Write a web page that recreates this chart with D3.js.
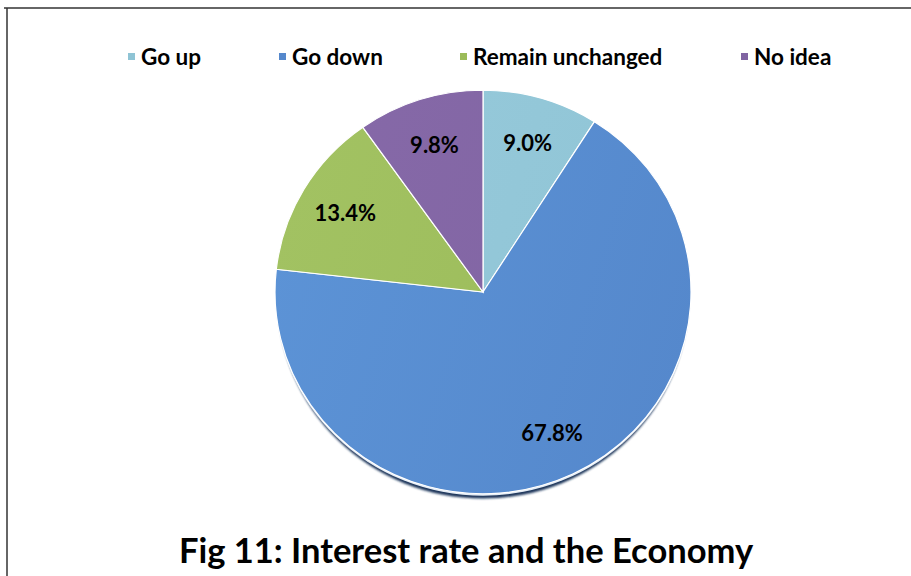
<!DOCTYPE html>
<html>
<head>
<meta charset="utf-8">
<script src="https://cdn.jsdelivr.net/npm/d3@7/dist/d3.min.js"></script>
<style>
  html, body { margin: 0; padding: 0; background: #fff; }
  svg { display: block; }
  text { font-family: Lato, "Open Sans", sans-serif; font-weight: 700; fill: #000; }
</style>
</head>
<body>
<svg id="chart" width="911" height="576"></svg>
<script>
const categories = ["Go up", "Go down", "Remain unchanged", "No idea"];
const values = [9.0, 67.8, 13.4, 9.8];
const colors = ["#8fc4d5", "#5588cc", "#9bbb59", "#8064a2"];
const lightColors = ["#97cadb", "#5c93d6", "#a2c262", "#8669a8"];
const title = "Fig 11: Interest rate and the Economy";

const W = 911, H = 576;
const svg = d3.select("#chart");

// frame
svg.append("line").attr("x1", 4).attr("x2", W).attr("y1", 8).attr("y2", 8)
  .attr("stroke", "#333").attr("stroke-width", 1.5);
svg.append("line").attr("x1", 7).attr("x2", 7).attr("y1", 8).attr("y2", H)
  .attr("stroke", "#333").attr("stroke-width", 1.5);

const cx = 483, cy = 292, R = 208, sy = 0.97;
const defs = svg.append("defs");
const blur = defs.append("filter").attr("id", "sh").attr("x", "-10%").attr("y", "-10%").attr("width", "120%").attr("height", "120%");
blur.append("feGaussianBlur").attr("stdDeviation", 1.2);

categories.forEach((c, i) => {
  const g = defs.append("linearGradient").attr("id", "g" + i)
    .attr("gradientUnits", "userSpaceOnUse")
    .attr("x1", -R).attr("y1", -R * 0.3).attr("x2", R).attr("y2", R * 0.3);
  g.append("stop").attr("offset", "0%").attr("stop-color", lightColors[i]);
  g.append("stop").attr("offset", "100%").attr("stop-color", colors[i]);
});

const pieG = svg.append("g").attr("transform", `translate(${cx},${cy}) scale(1,${sy})`);

// shadow + bevel highlight
pieG.append("circle").attr("cx", 0).attr("cy", 8).attr("r", R - 3)
  .attr("fill", "#1d365a").attr("filter", "url(#sh)");
pieG.append("circle").attr("cx", 0).attr("cy", 2).attr("r", R)
  .attr("fill", "#e4ecf5");

const pie = d3.pie().sort(null).value(d => d)(values);
const arc = d3.arc().innerRadius(0).outerRadius(R);
const labelArc = d3.arc().innerRadius(160).outerRadius(160);

pieG.selectAll("path.slice").data(pie).enter().append("path")
  .attr("class", "slice")
  .attr("d", arc)
  .attr("fill", (d, i) => `url(#g${i})`)
  .attr("stroke", "#ffffff").attr("stroke-width", 1.2);

svg.selectAll("text.lbl").data(pie).enter().append("text")
  .attr("class", "lbl")
  .attr("transform", d => {
    const [x, y] = labelArc.centroid(d);
    return `translate(${cx + x},${cy + y * sy})`;
  })
  .attr("text-anchor", "middle")
  .attr("dominant-baseline", "central")
  .style("font-size", "22px")
  .text(d => d.data.toFixed(1) + "%");

// legend
const legendX = [128, 279, 460, 741];
const leg = svg.append("g");
categories.forEach((c, i) => {
  leg.append("rect").attr("x", legendX[i]).attr("y", 53).attr("width", 7).attr("height", 7)
    .attr("fill", colors[i]);
  leg.append("text").attr("x", legendX[i] + 13).attr("y", 56.5)
    .attr("dominant-baseline", "central")
    .style("font-size", "22.5px")
    .text(c);
});

// title
svg.append("text").attr("x", 466).attr("y", 549)
  .attr("text-anchor", "middle").attr("dominant-baseline", "central")
  .style("font-size", "34.5px")
  .text(title);
</script>
</body>
</html>
